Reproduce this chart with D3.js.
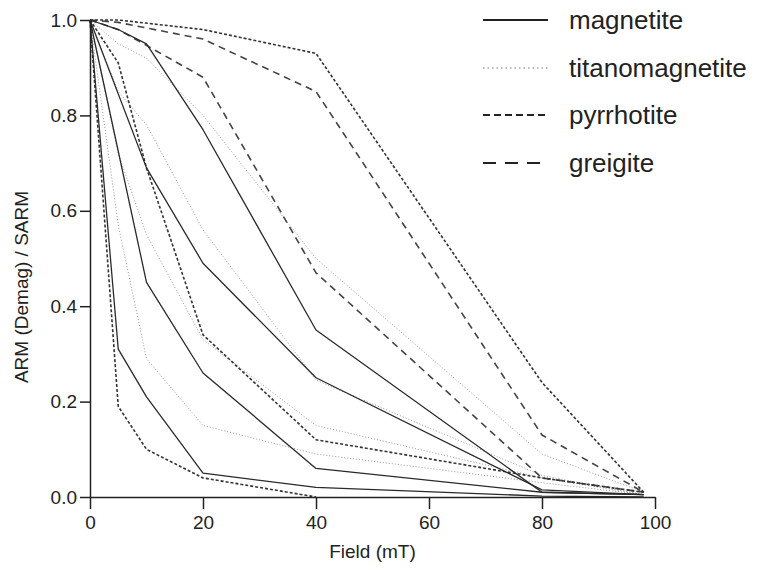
<!DOCTYPE html>
<html>
<head>
<meta charset="utf-8">
<script src="https://cdn.jsdelivr.net/npm/d3@7/dist/d3.min.js"></script>
<style>
  html, body { margin: 0; padding: 0; background: #fff; }
  svg { display: block; font-family: "Liberation Sans", Arial, Helvetica, sans-serif; }
</style>
</head>
<body>
<svg id="chart" width="758" height="572"></svg>
<script>
// ---- data ----
const xTicks = [0, 20, 40, 60, 80, 100];
const yTicks = [0.0, 0.2, 0.4, 0.6, 0.8, 1.0];
const xLabel = "Field (mT)";
const yLabel = "ARM (Demag) / SARM";
const mineralNames = ["magnetite", "titanomagnetite", "pyrrhotite", "greigite"];

// each curve: [field (mT), ARM/SARM]
const magnetite = [
  [[0,1],[5,0.31],[10,0.21],[20,0.05],[40,0.02],[80,0.002],[98,0.0]],
  [[0,1],[10,0.45],[20,0.26],[40,0.06],[80,0.01],[98,0.005]],
  [[0,1],[10,0.69],[20,0.49],[40,0.25],[80,0.015],[98,0.005]],
  [[0,1],[5,0.98],[10,0.95],[20,0.77],[40,0.35],[80,0.01],[98,0.005]]
];
const titanomagnetite = [
  [[0,1],[5,0.57],[10,0.29],[20,0.15],[40,0.09],[80,0.03],[98,0.005]],
  [[0,1],[5,0.72],[10,0.55],[20,0.33],[40,0.15],[80,0.04],[98,0.005]],
  [[0,1],[5,0.85],[10,0.78],[20,0.56],[40,0.245],[80,0.045],[98,0.005]],
  [[0,1],[5,0.95],[10,0.92],[20,0.80],[40,0.50],[80,0.09],[98,0.01]]
];
const pyrrhotite = [
  [[0,1],[5,0.19],[10,0.10],[20,0.04],[40,0.0]],
  [[0,1],[5,0.91],[10,0.69],[20,0.34],[40,0.12],[80,0.04],[98,0.01]],
  [[0,1],[5,1.0],[20,0.98],[40,0.93],[80,0.24],[98,0.01]]
];
const greigite = [
  [[0,1],[5,0.995],[20,0.96],[40,0.85],[80,0.13],[98,0.01]],
  [[0,1],[5,0.98],[20,0.88],[40,0.47],[80,0.04],[98,0.01]]
];

// ---- styles ----
const styles = {
  magnetite:       { stroke: "#2a2a2a", width: 1.3, dash: null,  legendDash: null },
  titanomagnetite: { stroke: "#9a9a9a", width: 1.0, dash: "1,2", legendDash: "1.5,3" },
  pyrrhotite:      { stroke: "#333333", width: 1.6, dash: "3,2", legendDash: "7,4" },
  greigite:        { stroke: "#444444", width: 1.6, dash: "7,5", legendDash: "13,9" }
};
const groups = [
  { name: "titanomagnetite", curves: titanomagnetite },
  { name: "greigite", curves: greigite },
  { name: "pyrrhotite", curves: pyrrhotite },
  { name: "magnetite", curves: magnetite }
];

const svg = d3.select("#chart");
const x = d3.scaleLinear().domain([0, 100]).range([90, 655]);
const y = d3.scaleLinear().domain([0, 1]).range([497, 20]);

const line = d3.line().x(d => x(d[0])).y(d => y(d[1]));

groups.forEach(g => {
  const st = styles[g.name];
  svg.append("g").selectAll("path").data(g.curves).join("path")
    .attr("d", line)
    .attr("fill", "none")
    .attr("stroke", st.stroke)
    .attr("stroke-width", st.width)
    .attr("stroke-linejoin", "round")
    .attr("stroke-dasharray", st.dash);
});

// axes
const xAxis = svg.append("g").attr("transform", `translate(0,${y(0)})`)
  .call(d3.axisBottom(x).tickValues(xTicks).tickFormat(d3.format("d")).tickSize(12).tickSizeOuter(0));
const yAxis = svg.append("g").attr("transform", `translate(${x(0)},0)`)
  .call(d3.axisLeft(y).tickValues(yTicks).tickFormat(d3.format(".1f")).tickSize(10).tickSizeOuter(0));
[xAxis, yAxis].forEach(a => {
  a.select(".domain").attr("stroke", "#222").attr("stroke-width", 1.5);
  a.selectAll(".tick line").attr("stroke", "#222").attr("stroke-width", 1.5);
  a.selectAll(".tick text").attr("fill", "#222").style("font-size", "19px")
    .style("font-family", '"Liberation Sans", Arial, sans-serif');
});
xAxis.selectAll(".tick text").attr("y", 19).attr("dy", "0.71em");
yAxis.selectAll(".tick text").attr("x", -13);

svg.append("text").attr("x", (x(0) + x(100)) / 2).attr("y", 558)
  .attr("text-anchor", "middle").attr("fill", "#222").style("font-size", "19px").text(xLabel);
svg.append("text").attr("transform", `translate(28,287) rotate(-90)`)
  .attr("text-anchor", "middle").attr("fill", "#222").style("font-size", "19px").text(yLabel);

// legend
const legendY = [20, 68, 115, 163];
const lg = svg.append("g");
mineralNames.forEach((n, i) => {
  const st = styles[n];
  lg.append("line").attr("x1", 483).attr("x2", 548).attr("y1", legendY[i]).attr("y2", legendY[i])
    .attr("stroke", n === "titanomagnetite" ? "#777" : "#222")
    .attr("stroke-width", n === "titanomagnetite" ? 1.2 : 2)
    .attr("stroke-dasharray", st.legendDash);
  lg.append("text").attr("x", 569).attr("y", legendY[i]).attr("dy", "0.33em")
    .attr("fill", "#222").style("font-size", "26px").text(n);
});
</script>
</body>
</html>
